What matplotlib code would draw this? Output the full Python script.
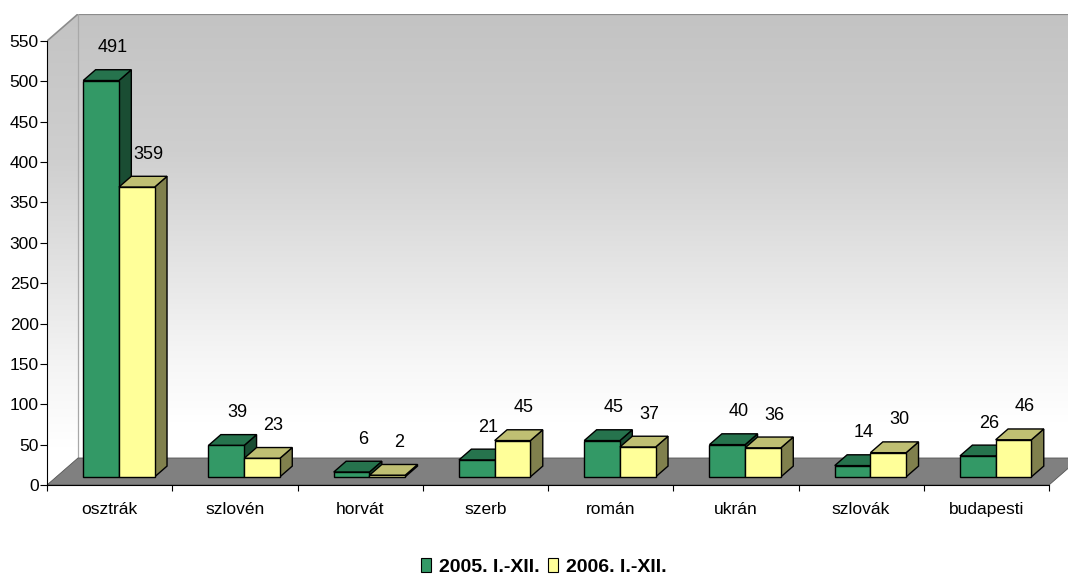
import matplotlib
matplotlib.use("Agg")
import matplotlib.pyplot as plt
import numpy as np
from matplotlib.patches import Polygon, Patch

categories = ["osztrák", "szlovén", "horvát", "szerb", "román", "ukrán", "szlovák", "budapesti"]
values_2005 = [491, 39, 6, 21, 45, 40, 14, 26]
values_2006 = [359, 23, 2, 45, 37, 36, 30, 46]
series_labels = ["2005. I.-XII.", "2006. I.-XII."]
y_ticks = list(range(0, 551, 50))

front_colors = ["#339966", "#FFFF99"]

plt.rcParams["font.family"] = ["Liberation Sans", "DejaVu Sans"]


def shade(hex_color, k):
    r, g, b = matplotlib.colors.to_rgb(hex_color)
    return (r * k, g * k, b * k)


W, H = 1068, 575
fig = plt.figure(figsize=(W / 100, H / 100), dpi=100)

# axes: left spine at x=47px, floor front at y=485px, wall top at y=14px
px_x = 125.25          # pixels per category
px_y = 444 / 550       # pixels per value unit
left_px, bottom_px, top_px = 47, 485, 14
ax = fig.add_axes([left_px / W, (H - bottom_px) / H, (W - left_px) / W, (bottom_px - top_px) / H])

# depth of the 3D box, in data units
DX = 31 / px_x
DY = 27 / px_y
x0, x1 = -0.5, len(categories) - 0.5
ymax = y_ticks[-1]
ax.set_xlim(x0, x0 + (W - left_px) / px_x)
ax.set_ylim(0, ymax + DY)

# back wall and side wall, gray at the top fading to white lower down
t = np.linspace(0, 1, 256)
g = np.interp(t, [0, 0.31, 0.76, 0.92, 1], [195, 207, 245, 255, 255]) / 255
grad = np.dstack([g, g, g]).reshape(-1, 1, 3)
ax.imshow(grad, extent=(x0 + DX, x1 + DX + 1, DY, ymax + DY), origin="upper",
          aspect="auto", zorder=0, interpolation="bilinear")
side = Polygon([(x0, 0), (x0 + DX, DY), (x0 + DX, ymax + DY), (x0, ymax)], closed=True,
               facecolor="none", edgecolor="none")
ax.add_patch(side)
im = ax.imshow(grad, extent=(x0, x0 + DX, 0, ymax + DY), origin="upper",
               aspect="auto", zorder=0, interpolation="bilinear")
im.set_clip_path(side)

ax.plot([x0 + DX, x1 + DX + 1], [ymax + DY] * 2, color="#8c8c8c", lw=1.6, zorder=1)
ax.plot([x0, x0 + DX], [ymax, ymax + DY], color="#8c8c8c", lw=1.2, zorder=1)
ax.plot([x0 + DX, x0 + DX], [DY, ymax + DY], color="#a8a8a8", lw=0.9, zorder=1)

# floor
floor = Polygon([(x0, 0), (x1, 0), (x1 + DX, DY), (x0 + DX, DY)], closed=True,
                facecolor="#808080", edgecolor="#555555", lw=0.6, zorder=2)
ax.add_patch(floor)

# 3D bars: side, top and front faces
bw = 0.285
d0, d1 = 0.3, 0.7
z = 3
for i in range(len(categories)):
    for s, vals in enumerate([values_2005, values_2006]):
        v = vals[i]
        xl = i - bw + s * bw + d0 * DX
        xr = xl + bw
        yb = d0 * DY
        ddx, ddy = (d1 - d0) * DX, (d1 - d0) * DY
        c = front_colors[s]
        side_face = Polygon([(xr, yb), (xr + ddx, yb + ddy), (xr + ddx, yb + ddy + v), (xr, yb + v)],
                            facecolor=shade(c, 0.5), edgecolor="black", lw=1.0, zorder=z)
        top_face = Polygon([(xl, yb + v), (xr, yb + v), (xr + ddx, yb + v + ddy), (xl + ddx, yb + v + ddy)],
                           facecolor=shade(c, 0.75), edgecolor="black", lw=1.0, zorder=z)
        front = Polygon([(xl, yb), (xr, yb), (xr, yb + v), (xl, yb + v)],
                        facecolor=c, edgecolor="black", lw=1.0, zorder=z)
        for p in (side_face, top_face, front):
            ax.add_patch(p)
        z += 1
        ax.annotate(str(v), ((xl + xr) / 2 + ddx, yb + v + ddy), xytext=(-1, 22),
                    textcoords="offset pixels", ha="center", va="center",
                    fontsize=13, zorder=50)

# axis lines and ticks
for sp in ("top", "right"):
    ax.spines[sp].set_visible(False)
ax.spines["left"].set_bounds(0, ymax)
ax.spines["bottom"].set_bounds(x0, x1)
ax.spines["left"].set_zorder(10)
ax.spines["bottom"].set_zorder(10)
ax.set_yticks(y_ticks)
ax.set_yticklabels([str(t) for t in y_ticks], fontsize=12.5)
ax.tick_params(axis="y", direction="out", length=5, width=0.8, pad=1)
ax.set_xticks(np.arange(x0, x1 + 0.01, 1.0))
ax.set_xticklabels([])
ax.set_xticks(range(len(categories)), minor=True)
ax.set_xticklabels(categories, minor=True, fontsize=12.5)
ax.tick_params(axis="x", which="major", direction="out", length=4.5, width=0.8)
ax.tick_params(axis="x", which="minor", length=0, pad=12)

handles = [Patch(facecolor=c, edgecolor="black", lw=0.8) for c in front_colors]
fig.legend(handles, series_labels, loc="center", bbox_to_anchor=(0.509, 0.014), ncol=2,
           frameon=False, handlelength=0.55, handleheight=0.7, handletextpad=0.4,
           columnspacing=0.4, borderaxespad=0, borderpad=0,
           prop={"weight": "bold", "size": 14})

fig.savefig("out.png", dpi=100)
